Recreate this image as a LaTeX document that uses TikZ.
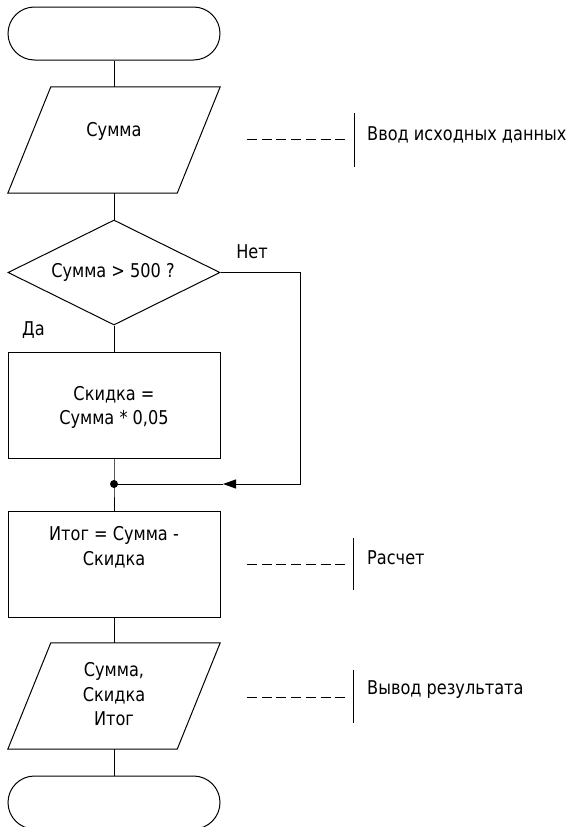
\documentclass[tikz,border=0pt]{standalone}
\usepackage{fontspec}
\setmainfont{DejaVu Sans}[FakeStretch=0.85]
\usetikzlibrary{shapes.geometric,shapes.misc,arrows.meta,calc}
\begin{document}
\begin{tikzpicture}[x=1pt,y=-1pt,
  every node/.style={font=\fontsize{19}{24.5}\selectfont, inner sep=0pt},
  line/.style={line width=1pt, black},
  term/.style={rounded rectangle, draw, line width=1pt, minimum width=212pt, minimum height=53pt},
  procbox/.style={rectangle, draw, line width=1pt, minimum width=212pt, minimum height=106pt},
  iobox/.style={rectangle, minimum width=212pt, minimum height=106pt},
  decbox/.style={diamond, draw, line width=1pt, minimum width=212pt, minimum height=105pt},
  txt/.style={align=center},
  dashline/.style={line width=1pt, dash pattern=on 10pt off 4.7pt},
  annot/.style={anchor=west}
]
\useasboundingbox (0,0) rectangle (568,827);
\clip (0,0) rectangle (568,827);

% shapes
\node[term] (start) at (114,33.5) {};
\node[iobox] (in1) at (114,140) {};
\draw[line] ($(in1.north west)+(43,0)$) -- (in1.north east) -- ($(in1.south east)-(43,0)$) -- (in1.south west) -- cycle;
\node[txt] (in1t) at (114,131) {Сумма};

\node[decbox] (dec) at (114,272.5) {};
\node[txt] (dect) at (113,272) {Сумма > 500 ?};

\node[procbox] (r1) at (114,405) {};
\node[txt] (r1t) at (114,407.5) {Скидка =\\Сумма * 0,05};

\node[procbox] (r2) at (114,564) {};
\node[txt] (r2t) at (114,547.5) {Итог = Сумма -\\Скидка};

\node[iobox] (in2) at (114,696) {};
\draw[line] ($(in2.north west)+(43,0)$) -- (in2.north east) -- ($(in2.south east)-(43,0)$) -- (in2.south west) -- cycle;
\node[txt] (in2t) at (114,694.5) {Сумма,\\Скидка\\Итог};

\node[term] (stop) at (114,802.5) {};

% labels
\node (no) at (252,252) {Нет};
\node (yes) at (33.5,330) {Да};

% connectors
\coordinate (j) at (114,484);
\coordinate (rc) at (300,484);
\coordinate (tip) at (223,484);
\draw[line] (start.south) -- (in1.north);
\draw[line] (in1.south) -- (dec.north);
\draw[line] (dec.south) -- (r1.north);
\draw[line] (r1.south) -- (j) -- (r2.north);
\draw[line, -{Triangle[length=13pt,width=9pt]}] (dec.east) -| (rc) -- (tip);
\draw[line] (tip) -- (j);
\fill (j) circle (4pt);
\draw[line] (r2.south) -- (in2.north);
\draw[line] (in2.south) -- (stop.north);

% annotations
\draw[dashline] (247,139) -- (347,139);
\draw[line] (354,113) -- (354,167);
\node[annot] (a1) at (367,135) {Ввод исходных данных};

\draw[dashline] (247,564) -- (347,564);
\draw[line] (353,538) -- (353,590);
\node[annot] (a2) at (367,558) {Расчет};

\draw[dashline] (247,697) -- (347,697);
\draw[line] (353,670) -- (353,723);
\node[annot] (a3) at (367,690) {Вывод результата};
\end{tikzpicture}
\end{document}
